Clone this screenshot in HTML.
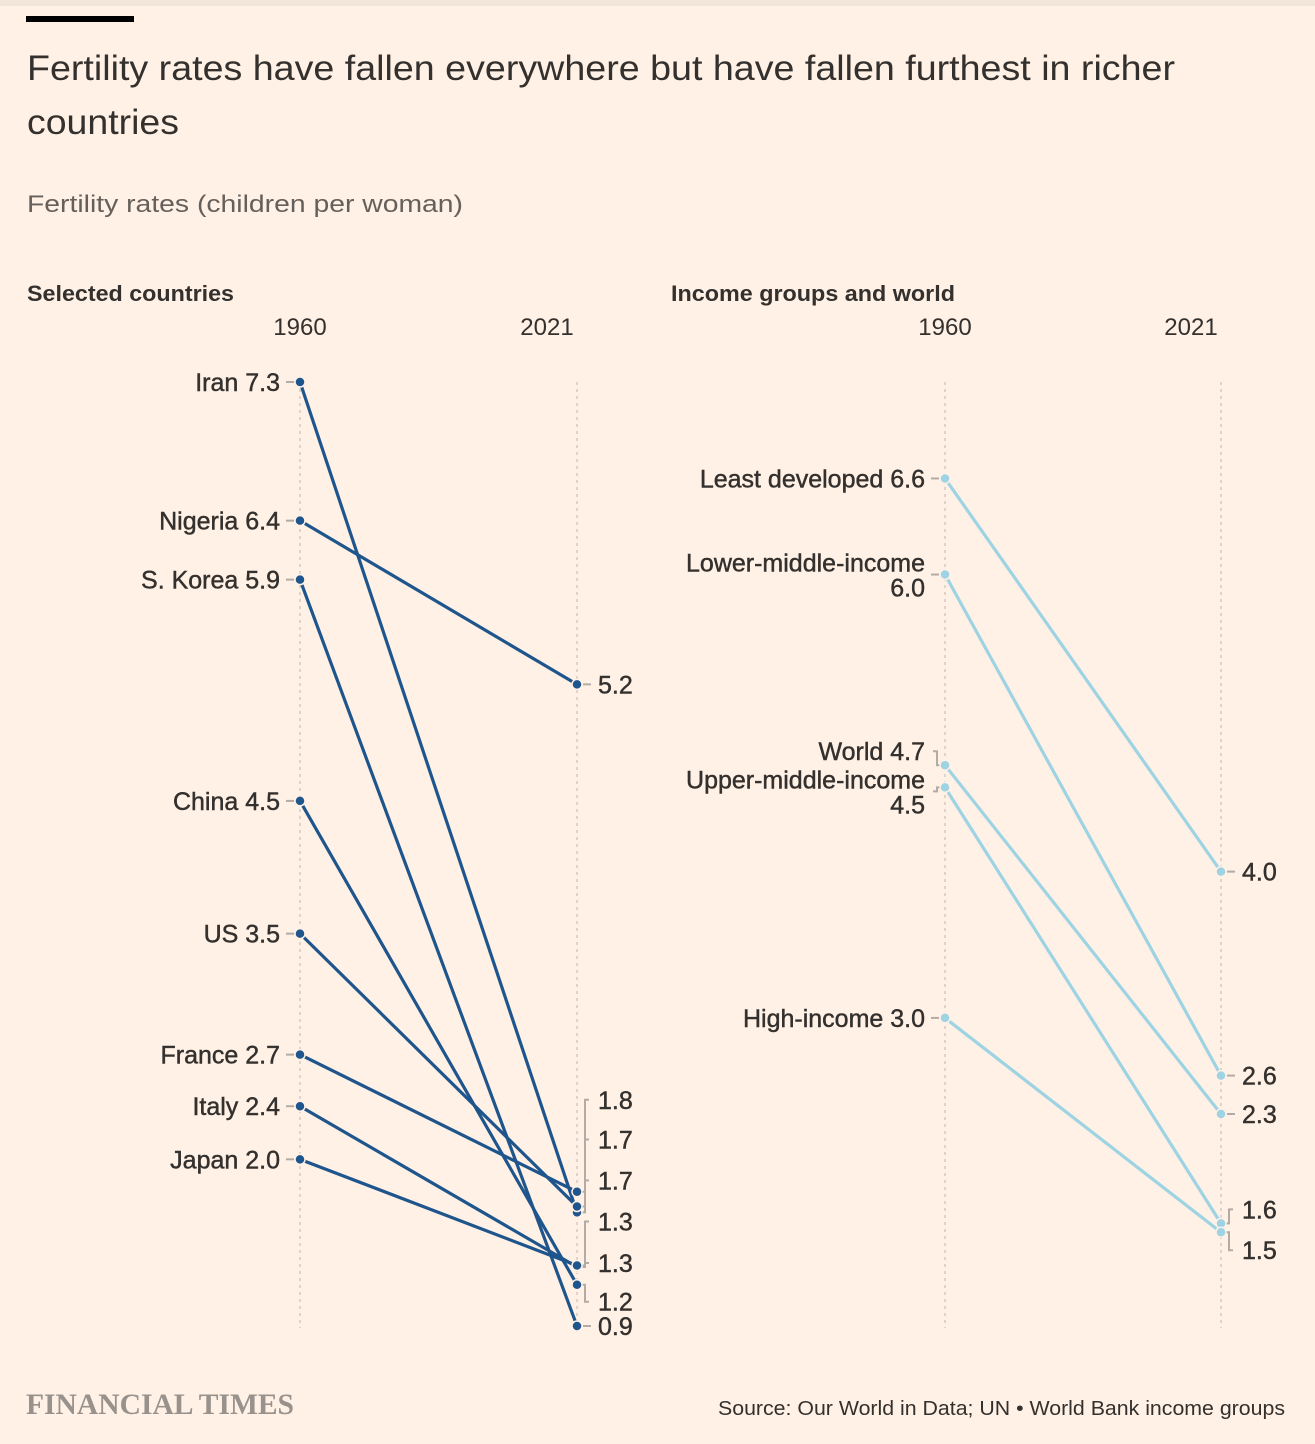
<!DOCTYPE html>
<html><head><meta charset="utf-8"><style>
html,body{margin:0;padding:0;background:#fff1e5;}
svg{display:block;font-family:"Liberation Sans",sans-serif;}
</style></head><body>
<svg id="chart" width="1315" height="1444" viewBox="0 0 1315 1444" xmlns="http://www.w3.org/2000/svg">
<rect x="0" y="0" width="1315" height="1444" fill="#fff1e5"/>
<rect x="0" y="0" width="1315" height="6" fill="#f2e5da"/>
<rect x="26" y="16" width="108" height="6" fill="#000"/>
<text x="27" y="80" font-size="35" fill="#33302e" textLength="1148" lengthAdjust="spacingAndGlyphs">Fertility rates have fallen everywhere but have fallen furthest in richer</text>
<text x="27" y="134" font-size="35" fill="#33302e" textLength="152" lengthAdjust="spacingAndGlyphs">countries</text>
<text x="27" y="212" font-size="24" fill="#66605c" textLength="436" lengthAdjust="spacingAndGlyphs">Fertility rates (children per woman)</text>
<text x="27" y="301" font-size="22" font-weight="bold" fill="#33302e" textLength="207" lengthAdjust="spacingAndGlyphs">Selected countries</text>
<text x="671" y="301" font-size="22" font-weight="bold" fill="#33302e" textLength="284" lengthAdjust="spacingAndGlyphs">Income groups and world</text>
<g id="plot"></g>
<text x="26" y="1414" font-family="Liberation Serif,serif" font-size="30" font-weight="bold" fill="#99928c" textLength="268" lengthAdjust="spacingAndGlyphs">FINANCIAL TIMES</text>
<text x="1285" y="1415" text-anchor="end" font-size="20" fill="#33302e" textLength="567" lengthAdjust="spacingAndGlyphs">Source: Our World in Data; UN • World Bank income groups</text>
</svg>
<script>
// Data
const countries = ["Iran","Nigeria","S. Korea","China","US","France","Italy","Japan"];
const countries1960 = [7.3,6.36,5.96,4.46,3.56,2.74,2.39,2.03];
const countries2021 = [1.67,5.25,0.9,1.18,1.71,1.81,1.30,1.31];
const countryLabels1960 = ["7.3","6.4","5.9","4.5","3.5","2.7","2.4","2.0"];
const countryLabels2021 = ["1.7","5.2","0.9","1.2","1.7","1.8","1.3","1.3"];
const groups = ["Least developed","Lower-middle-income","World","Upper-middle-income","High-income"];
const groups1960 = [6.6,5.95,4.66,4.51,2.95];
const groups2021 = [3.94,2.56,2.30,1.56,1.50];
const groupLabels1960 = ["6.6","6.0","4.7","4.5","3.0"];
const groupLabels2021 = ["4.0","2.6","2.3","1.6","1.5"];
const years = ["1960","2021"];

// label nudges (layout, px) to avoid overlapping
const countryStartNudge = [0,0,0,0,0,0,0,0];
const countryEndNudge = [-32,0,0,17,-67,-92,-4,-44];
const groupStartNudge = [0,0,-14,4,0];
const groupEndNudge = [0,0,0,-14,18];

const NS="http://www.w3.org/2000/svg";
const plot=document.getElementById('plot');
function mk(tag,attrs,parent){const e=document.createElementNS(NS,tag);for(const k in attrs)e.setAttribute(k,attrs[k]);(parent||plot).appendChild(e);return e;}
const yL=v=>382+(7.3-v)*147.5;
const yR=v=>375+(7.3-v)*147.8;
const LBL={'font-size':25,fill:'#33302e',stroke:'#33302e','stroke-width':0.45};

function panel(x0,x1,names,v0,v1,l0,l1,yf,color,prefix,n0,n1){
  const axTop=382,axBot=1328;
  [x0,x1].forEach((x,i)=>{
    const ax=mk('line',{x1:x,y1:axTop,x2:x,y2:axBot,stroke:'#d6cbc1','stroke-width':1.5,'stroke-dasharray':'3,4'});
    
    
    const t=mk('text',{x:i===0?x:x-30,y:335,'text-anchor':'middle','font-size':24,fill:'#33302e'});
    t.textContent=years[i];
    
    
  });
  names.forEach((n,i)=>{
    const ln=mk('line',{x1:x0,y1:yf(v0[i]),x2:x1,y2:yf(v1[i]),stroke:color,'stroke-width':3.2});
    
    
  });
  names.forEach((n,i)=>{
    const d=yf(v1[i]),l=d+n1[i];
    if(Math.abs(l-d)<3){
      const dash=mk('line',{x1:x1+6,y1:d,x2:x1+14,y2:d,stroke:'#b3aba4','stroke-width':2});
      
      
    }else{
      const br=mk('polyline',{points:`${x1+4},${d} ${x1+8},${d} ${x1+8},${l} ${x1+12},${l}`,fill:'none',stroke:'#b3aba4','stroke-width':2});
      
      
    }
    const t=mk('text',Object.assign({x:x1+21,y:l+9},LBL));
    t.textContent=l1[i];
    
    
  });
  names.forEach((n,i)=>{
    const d=yf(v0[i]),l=d+n0[i];
    if(Math.abs(l-d)<3){
      const dash=mk('line',{x1:x0-14,y1:d,x2:x0-6,y2:d,stroke:'#b3aba4','stroke-width':2});
      
      
    }else{
      const br=mk('polyline',{points:`${x0-4},${d} ${x0-8},${d} ${x0-8},${l} ${x0-12},${l}`,fill:'none',stroke:'#b3aba4','stroke-width':2});
      
      
    }
    const t=mk('text',Object.assign({x:x0-20,'text-anchor':'end'},LBL));
    if(n.length>16){
      t.setAttribute('y',l-3);
      const s1=mk('tspan',{x:x0-20},t);s1.textContent=n;
      const s2=mk('tspan',{x:x0-20,dy:25},t);s2.textContent=l0[i];
    }else{
      t.setAttribute('y',l+9);
      t.textContent=n+' '+l0[i];
    }
    
    
  });
  names.forEach((n,i)=>{
    [[x0,v0[i]],[x1,v1[i]]].forEach(p=>{
      const c=mk('circle',{cx:p[0],cy:yf(p[1]),r:5,fill:color,stroke:'#fff1e5','stroke-width':1.5});
      
      
    });
  });
}
panel(300,577,countries,countries1960,countries2021,countryLabels1960,countryLabels2021,yL,'#1e558c','countries',countryStartNudge,countryEndNudge);
panel(945,1221,groups,groups1960,groups2021,groupLabels1960,groupLabels2021,yR,'#9dd3e3','income',groupStartNudge,groupEndNudge);
</script>
</body></html>
